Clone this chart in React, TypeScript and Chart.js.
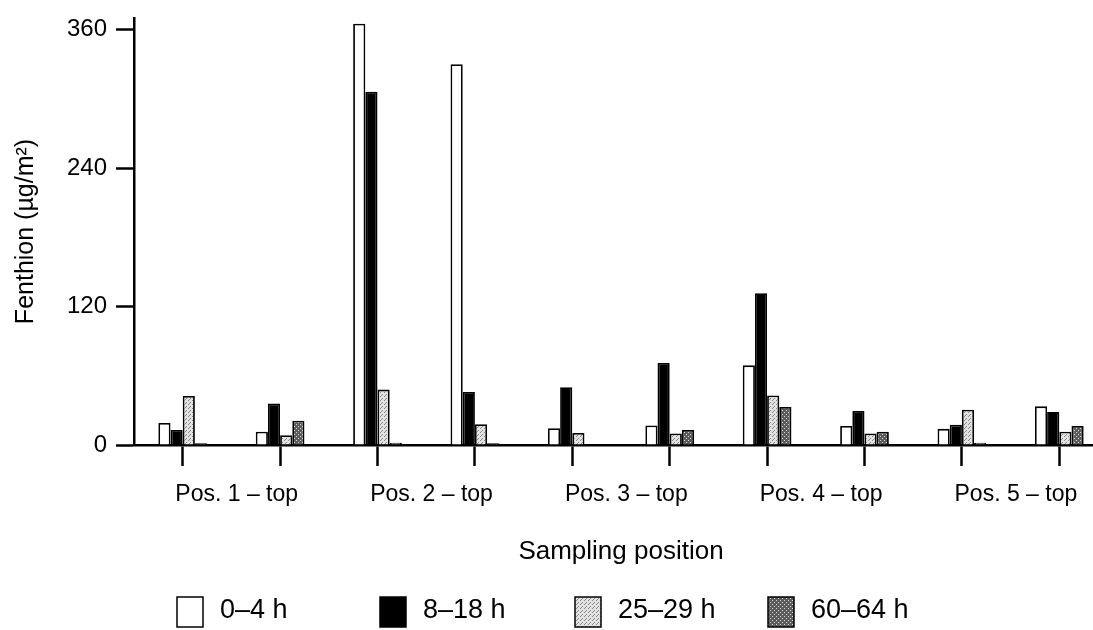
import React, { useEffect, useRef } from "react";
import { Chart, registerables } from "chart.js";

Chart.register(...registerables);

// ---- data ----
const xLabels = [
  "Pos. 1 – top", "",
  "Pos. 2 – top", "",
  "Pos. 3 – top", "",
  "Pos. 4 – top", "",
  "Pos. 5 – top", "",
];
const seriesNames = ["0–4 h", "8–18 h", "25–29 h", "60–64 h"];
const values0to4 = [19, 11.5, 365, 330, 14.5, 17, 69, 16.5, 14, 33.5];
const values8to18 = [13, 36, 306, 46, 50, 71, 131.5, 29.5, 17.5, 28.5];
const values25to29 = [42.5, 8.5, 48, 18, 10.5, 10, 43, 10, 30.5, 11.5];
const values60to64 = [1.5, 21, 2, 1.5, 0.5, 13, 33, 11.5, 2, 16.5];
const yTickValues = [0, 120, 240, 360];
const yMax = 370;
const yTitle = "Fenthion (µg/m²)";
const xTitle = "Sampling position";

const FONT = "'Liberation Sans', Arial, Helvetica, sans-serif";

function makePattern(base: string, dot: string, dots: number[][]): CanvasPattern | string {
  const c = document.createElement("canvas");
  c.width = 4;
  c.height = 4;
  const g = c.getContext("2d");
  if (!g) return base;
  g.fillStyle = base;
  g.fillRect(0, 0, 4, 4);
  g.fillStyle = dot;
  dots.forEach(([x, y]) => g.fillRect(x, y, 1, 1));
  const ctx = document.createElement("canvas").getContext("2d");
  const p = ctx ? ctx.createPattern(c, "repeat") : null;
  return p || base;
}

const legendBoxX = [177, 380, 575, 768];

const fixedLegend = {
  id: "fixedLegend",
  afterDraw(chart: any) {
    const ctx = chart.ctx as CanvasRenderingContext2D;
    ctx.save();
    chart.data.datasets.forEach((ds: any, i: number) => {
      const x = legendBoxX[i];
      const y = 597;
      ctx.fillStyle = ds.backgroundColor;
      ctx.fillRect(x, y, 26, 30);
      ctx.strokeStyle = "#000";
      ctx.lineWidth = 1.5;
      ctx.strokeRect(x, y, 26, 30);
      ctx.fillStyle = "#000";
      ctx.font = `27px ${FONT}`;
      ctx.textBaseline = "alphabetic";
      ctx.textAlign = "left";
      ctx.fillText(ds.label, x + 43, 618);
    });
    ctx.restore();
  },
};

export default function App() {
  const ref = useRef<HTMLCanvasElement>(null);

  useEffect(() => {
    const canvas = ref.current;
    if (!canvas) return;
    Chart.defaults.font.family = FONT;
    const light = makePattern("#e2e2e2", "#8a8a8a", [[0, 0], [2, 2], [1, 3]]);
    const dark = makePattern("#5c5c5c", "#d8d8d8", [[0, 0], [2, 2]]);
    const fills = ["#ffffff", "#000000", light, dark];
    const seriesValues = [values0to4, values8to18, values25to29, values60to64];

    const chart = new Chart(canvas, {
      type: "bar",
      data: {
        labels: xLabels,
        datasets: seriesNames.map((name, i) => ({
          label: name,
          data: seriesValues[i],
          backgroundColor: fills[i] as any,
          borderColor: "#000",
          borderWidth: 1.8,
          categoryPercentage: 0.5,
          barPercentage: 1.0,
        })),
      },
      options: {
        responsive: false,
        animation: false,
        layout: { padding: { top: 18, left: 0, right: 0, bottom: 0 } },
        plugins: {
          legend: { display: false },
          tooltip: { enabled: false },
        },
        scales: {
          x: {
            afterFit: (s: any) => {
              s.height = 185;
              s.paddingLeft = 0;
              s.paddingRight = 0;
            },
            grid: {
              offset: false,
              drawOnChartArea: false,
              drawTicks: true,
              tickLength: 21,
              tickWidth: 2.5,
              tickColor: "#000",
            },
            border: { display: true, color: "#000", width: 2.5 },
            ticks: {
              color: "#000",
              font: { size: 23 },
              padding: 15,
              autoSkip: false,
              maxRotation: 0,
              minRotation: 0,
              labelOffset: 54,
            },
            title: {
              display: true,
              text: xTitle,
              color: "#000",
              font: { size: 26 },
              padding: { top: 0, bottom: 63 },
            },
          },
          y: {
            min: 0,
            max: yMax,
            afterBuildTicks: (s: any) => {
              s.ticks = yTickValues.map((v) => ({ value: v }));
            },
            afterFit: (s: any) => {
              s.width = 134;
              s.paddingTop = 0;
              s.paddingBottom = 0;
            },
            grid: {
              drawOnChartArea: false,
              drawTicks: true,
              tickLength: 18,
              tickWidth: 2.5,
              tickColor: "#000",
            },
            border: { display: true, color: "#000", width: 2.5 },
            ticks: {
              color: "#000",
              font: { size: 24 },
              padding: 9,
            },
            title: {
              display: true,
              text: yTitle,
              color: "#000",
              font: { size: 25 },
              padding: { top: 11, bottom: 0 },
            },
          },
        },
      },
      plugins: [fixedLegend],
    });
    return () => chart.destroy();
  }, []);

  return (
    <div
      style={{
        position: "fixed",
        left: 0,
        top: 0,
        width: 1093,
        height: 630,
        overflow: "hidden",
        background: "#fff",
      }}
    >
      <canvas ref={ref} width={1108} height={630} style={{ display: "block", width: 1108, height: 630 }} />
    </div>
  );
}
